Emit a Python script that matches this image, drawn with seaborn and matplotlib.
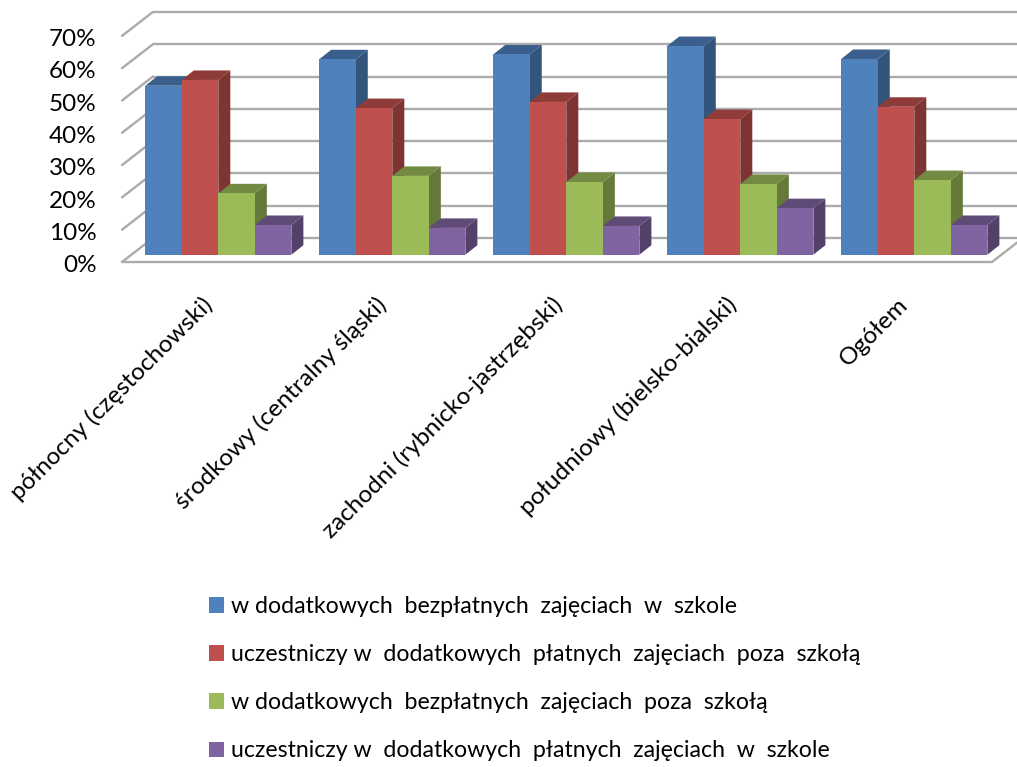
"""
Excel style 3D clustered columns, redrawn with seaborn.
"""

import matplotlib
matplotlib.use('Agg')
import matplotlib.pyplot as plt
from matplotlib.patches import Polygon
from matplotlib.colors import to_rgb
from matplotlib.transforms import ScaledTranslation
import seaborn as sns
import pandas as pd

regions = ['północny (częstochowski)', 'środkowy (centralny śląski)',
           'zachodni (rybnicko-jastrzębski)', 'południowy (bielsko-bialski)', 'Ogółem']
series_names = ['w dodatkowych  bezpłatnych  zajęciach  w  szkole',
                'uczestniczy w  dodatkowych  płatnych  zajęciach  poza  szkołą',
                'w dodatkowych  bezpłatnych  zajęciach  poza  szkołą',
                'uczestniczy w  dodatkowych  płatnych  zajęciach  w  szkole']
free_school = [52.3, 60.5, 62.0, 64.6, 60.6]
paid_outside = [54.1, 45.4, 47.3, 42.0, 45.8]
free_outside = [19.0, 24.4, 22.5, 21.9, 23.1]
paid_school = [9.2, 8.3, 8.9, 14.4, 9.2]
y_ticks = [0, 10, 20, 30, 40, 50, 60, 70]
y_labels = ['0%', '10%', '20%', '30%', '40%', '50%', '60%', '70%']
colors = ['#4F81BD', '#C0504D', '#9BBB59', '#8064A2']

W, H = 1017, 767
GRID = '#ababab'

sns.set_style('white')
plt.rcParams['font.family'] = ['Lato', 'DejaVu Sans']

df = pd.DataFrame({
    'region': regions * 4,
    'series': [s for s in series_names for _ in regions],
    'value': free_school + paid_outside + free_outside + paid_school,
})

fig = plt.figure(figsize=(W / 100, H / 100), dpi=100)
ax = fig.add_axes([131.3 / W, (H - 254.7) / H, 870 / W, 226.1 / H])
sns.barplot(data=df, x='region', y='value', hue='series', hue_order=series_names,
            palette=colors, saturation=1, width=0.84, gap=0, errorbar=None,
            linewidth=0, ax=ax)
ax.set_xlim(-0.5, 4.5)
ax.set_ylim(0, 70)
ax.set_xlabel('')
ax.set_ylabel('')

# one pixel in data units, depth is worked out in pixels
px_x = 5 / 870
px_y = 70 / 226.1

# walls and floor: bars stand 9 px behind the front edge
fx, fy = -9.3 * px_x, -7.3 * px_y
bx, by = 21.7 * px_x, 16.7 * px_y
x0, x1 = ax.get_xlim()
for t in y_ticks:
    ax.plot([x0 + bx, x1 + 40 * px_x], [t + by, t + by], color=GRID, lw=1.7, clip_on=False, zorder=1)
    ax.plot([x0 + fx, x0 + bx], [t + fy, t + by], color=GRID, lw=1.7, clip_on=False, zorder=1)
ax.plot([x0 + fx, x1 + fx], [fy, fy], color=GRID, lw=1.7, clip_on=False, zorder=1)
ax.plot([x1 + fx, x1 + bx], [fy, by], color=GRID, lw=1.7, clip_on=False, zorder=1)

# sides and tops of the columns, left to right so that each front covers the last side
dx, dy = 12 * px_x, 9.5 * px_y
bars = sorted(ax.patches, key=lambda b: b.get_x())
for i, bar in enumerate(bars):
    left, w, top = bar.get_x(), bar.get_width(), bar.get_height()
    rgb = to_rgb(bar.get_facecolor())
    side = [c * 0.65 for c in rgb]
    upper = [c * 0.74 for c in rgb]
    z = 3 + i * 0.1
    ax.add_patch(Polygon([(left + w, 0), (left + w + dx, dy), (left + w + dx, top + dy), (left + w, top)],
                         facecolor=side, edgecolor='none', clip_on=False, zorder=z))
    ax.add_patch(Polygon([(left, top), (left + dx, top + dy), (left + w + dx, top + dy), (left + w, top)],
                         facecolor=upper, edgecolor='none', clip_on=False, zorder=z))
    bar.set_zorder(z + 0.05)

sns.despine(ax=ax, left=True, bottom=True)
ax.set_yticks(y_ticks)
ax.set_yticklabels(y_labels, fontsize=17.5, color='black')
ax.tick_params(axis='y', length=0, pad=25)
ax.tick_params(axis='x', length=0, pad=28)
ax.set_xticks(range(len(regions)))
ax.set_xticklabels(regions, rotation=45, ha='right', rotation_mode='anchor',
                   fontsize=17.6, color='black')

shift = ScaledTranslation(0, -9.0 / 100, fig.dpi_scale_trans)
for label in ax.get_yticklabels():
    label.set_transform(label.get_transform() + shift)

# Excel does not centre the rotated labels evenly under the groups
label_shift_px = [-17, -17, -15, -15, -17]
for label, s in zip(ax.get_xticklabels(), label_shift_px):
    label.set_transform(label.get_transform() + ScaledTranslation(s / 100, 0, fig.dpi_scale_trans))

sns.move_legend(ax, loc='upper left', bbox_to_anchor=(209 / W, 1 - 596 / H),
                bbox_transform=fig.transFigure, frameon=False, title=None, labelcolor='black',
                fontsize=16.7, handlelength=0.64, handleheight=0.64, handletextpad=0.3,
                labelspacing=1.17, borderpad=0, borderaxespad=0)

fig.savefig('out.png', dpi=100)
